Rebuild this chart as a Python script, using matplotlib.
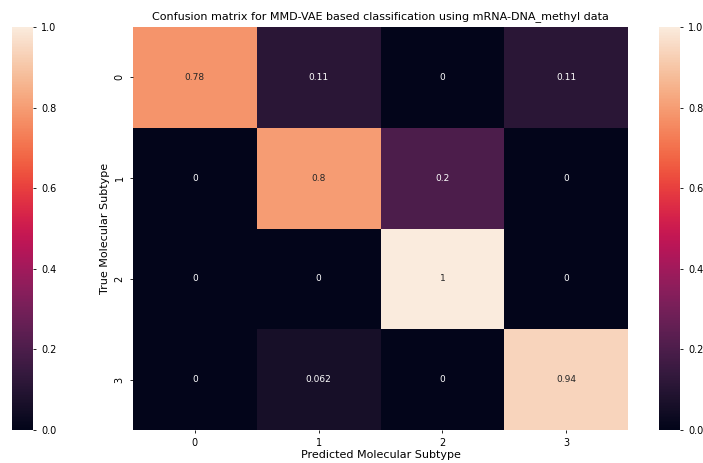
import matplotlib
matplotlib.use("Agg")
import matplotlib.pyplot as plt
import numpy as np
import seaborn as sns

categories = ["0", "1", "2", "3"]
matrix = [
    [0.78, 0.11, 0.0, 0.11],
    [0.0, 0.8, 0.2, 0.0],
    [0.0, 0.0, 1.0, 0.0],
    [0.0, 0.062, 0.0, 0.94],
]
annotations = [
    ["0.78", "0.11", "0", "0.11"],
    ["0", "0.8", "0.2", "0"],
    ["0", "0", "1", "0"],
    ["0", "0.062", "0", "0.94"],
]
cbar_ticks = [0.0, 0.2, 0.4, 0.6, 0.8, 1.0]

fig = plt.figure(figsize=(7.03, 4.63), dpi=100)
W, H = 703, 463
def rect(x0, y0, x1, y1):
    return [x0 / W, 1 - y1 / H, (x1 - x0) / W, (y1 - y0) / H]

ax = fig.add_axes(rect(133, 27, 628, 430))
cax_l = fig.add_axes(rect(12, 27, 33, 430))
cax_r = fig.add_axes(rect(659, 27, 680, 430))

data = np.array(matrix)
sns.heatmap(data, ax=ax, cmap="rocket", vmin=0, vmax=1, annot=np.array(annotations), fmt="",
            annot_kws={"fontsize": 6.5}, cbar_ax=cax_r,
            xticklabels=categories, yticklabels=categories)
cmap = sns.color_palette("rocket", as_cmap=True)
norm = matplotlib.colors.Normalize(0, 1)
cb = fig.colorbar(matplotlib.cm.ScalarMappable(norm=norm, cmap=cmap), cax=cax_l)
for c in (cax_l, cax_r):
    c.set_yticks(cbar_ticks)
    c.set_yticklabels([f"{t:.1f}" for t in cbar_ticks])
    c.tick_params(labelsize=7, length=2.5, width=0.6)
    c.yaxis.set_ticks_position("right")
    for s in c.spines.values():
        s.set_visible(False)

ax.set_title("Confusion matrix for MMD-VAE based classification using mRNA-DNA_methyl data", fontsize=8)
ax.set_xlabel("Predicted Molecular Subtype", fontsize=8, labelpad=1)
ax.set_ylabel("True Molecular Subtype", fontsize=8, labelpad=3)
ax.tick_params(labelsize=7, length=2.5, width=0.6)

fig.savefig("out.png", dpi=100)
